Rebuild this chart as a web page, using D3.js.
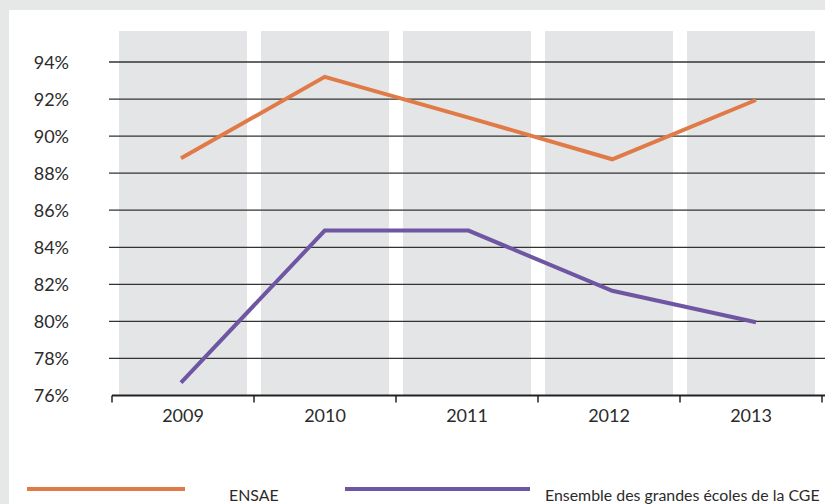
<!DOCTYPE html>
<html>
<head>
<meta charset="utf-8">
<script src="https://cdn.jsdelivr.net/npm/d3@7"></script>
<style>
  body { margin: 0; background: #e5e8e7; }
  svg { display: block; }
</style>
</head>
<body>
<div id="chart"></div>
<script>
// Data
const years = ["2009", "2010", "2011", "2012", "2013"];
const ensae = [88.8, 93.2, 91.0, 88.75, 91.95];
const cge = [76.7, 84.9, 84.9, 81.65, 79.95];
const yTicks = [76, 78, 80, 82, 84, 86, 88, 90, 92, 94];
const seriesNames = ["ENSAE", "Ensemble des grandes écoles de la CGE"];
const seriesColors = ["#e07a47", "#6f56a2"];

const W = 825, H = 504;

const svg = d3.select("#chart")
    .append("svg")
    .attr("width", W)
    .attr("height", H);

// white panel
svg.append("rect")
    .attr("x", 9).attr("y", 10)
    .attr("width", W - 9).attr("height", H - 10)
    .attr("fill", "#ffffff");

// Scales
const x = d3.scaleBand()
    .domain(years)
    .range([112, 822])
    .paddingInner(0)
    .paddingOuter(0);

// the plotted points sit slightly wider than the band centres
const xp = d3.scalePoint()
    .domain(years)
    .range([181, 756]);

const y = d3.scaleLinear()
    .domain([76, 94])
    .range([395.5, 62]);

// gray column backgrounds
svg.append("g")
    .selectAll("rect")
    .data(years)
    .join("rect")
    .attr("x", d => x(d) + 7)
    .attr("y", 31)
    .attr("width", x.bandwidth() - 14)
    .attr("height", y(76) - 31)
    .attr("fill", "#e4e5e7");

// horizontal grid lines
svg.append("g")
    .selectAll("line")
    .data(yTicks.filter(t => t > 76))
    .join("line")
    .attr("x1", 109)
    .attr("x2", W)
    .attr("y1", d => y(d))
    .attr("y2", d => y(d))
    .attr("stroke", "#333333")
    .attr("stroke-width", 1.3);

// y labels
svg.append("g")
    .selectAll("text")
    .data(yTicks)
    .join("text")
    .attr("x", 69)
    .attr("y", d => y(d) + 6.5)
    .attr("text-anchor", "end")
    .attr("font-family", "Lato, sans-serif")
    .attr("font-size", 18)
    .attr("fill", "#2b2b2b")
    .text(d => d + "%");

// x axis
const xAxis = d3.axisBottom(x)
    .tickSize(0)
    .tickPadding(14);

const gx = svg.append("g")
    .attr("transform", `translate(0,${y(76)})`)
    .call(xAxis);

gx.select(".domain").remove();
gx.append("line")
    .attr("x1", 112).attr("x2", W)
    .attr("stroke", "#222").attr("stroke-width", 2.2);
gx.selectAll(".sep")
    .data(years.concat("end"))
    .join("line")
    .attr("class", "sep")
    .attr("x1", (d, i) => 112 + i * x.step())
    .attr("x2", (d, i) => 112 + i * x.step())
    .attr("y1", 0).attr("y2", 7)
    .attr("stroke", "#222").attr("stroke-width", 1.5);
gx.selectAll(".tick text")
    .attr("font-family", "Lato, sans-serif")
    .attr("font-size", 18)
    .attr("fill", "#2b2b2b");

// lines
const line = d3.line()
    .x((d, i) => xp(years[i]))
    .y(d => y(d));

[ensae, cge].forEach((vals, k) => {
    svg.append("path")
        .datum(vals)
        .attr("d", line)
        .attr("fill", "none")
        .attr("stroke", seriesColors[k])
        .attr("stroke-width", 4);
});

// legend
const legend = [
    { x1: 27, x2: 185, tx: 229 },
    { x1: 345, x2: 530, tx: 545 }
];
legend.forEach((l, k) => {
    svg.append("line")
        .attr("x1", l.x1).attr("x2", l.x2)
        .attr("y1", 489).attr("y2", 489)
        .attr("stroke", seriesColors[k])
        .attr("stroke-width", 4);
    svg.append("text")
        .attr("x", l.tx)
        .attr("y", 501)
        .attr("font-family", "Lato, sans-serif")
        .attr("font-size", 15.9)
        .attr("fill", "#2b2b2b")
        .text(seriesNames[k]);
});
</script>
</body>
</html>
